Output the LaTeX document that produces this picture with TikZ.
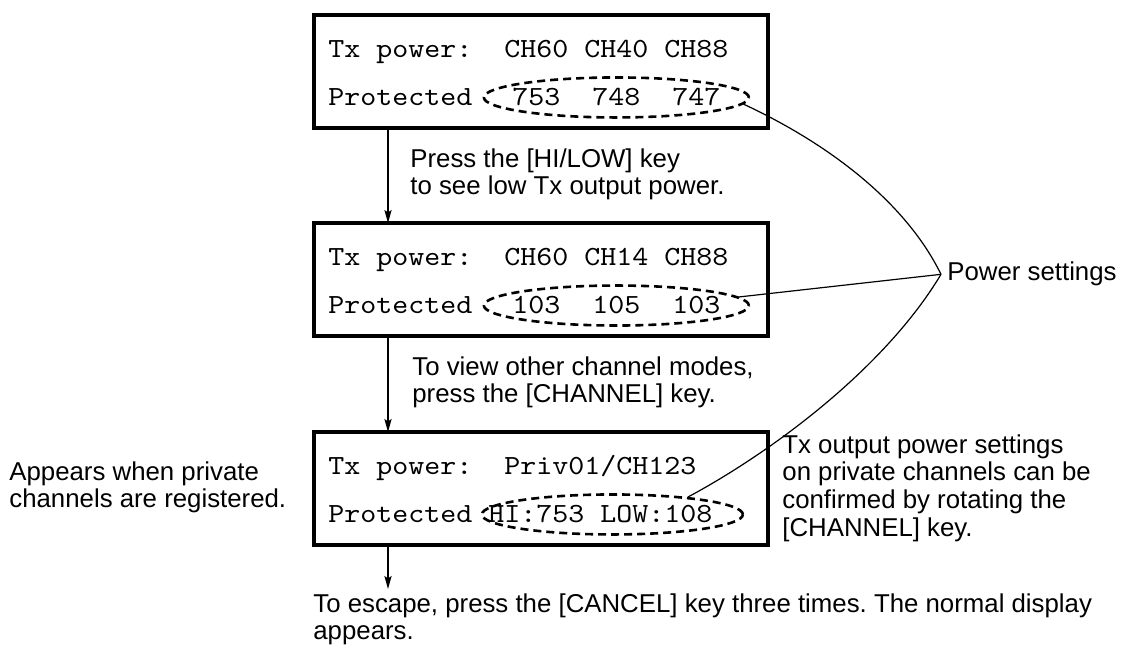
\documentclass[tikz,border=0pt]{standalone}
\usepackage{fontspec}
\setmainfont{Liberation Sans}
\newfontfamily\lcdfont{lmmono10-regular.otf}[FakeStretch=1.1]
\usepackage{tikz}
\usetikzlibrary{arrows.meta,positioning,shapes.geometric}
\frenchspacing

\begin{document}
\begin{tikzpicture}[
  x=0.5pt, y=-0.5pt,
  screen/.style={draw, line width=1.6pt, minimum width=227pt, minimum height=56.5pt, inner sep=0pt, outer sep=0pt},
  row/.style={font=\lcdfont\fontsize{13.85}{16}\selectfont, anchor=base west, inner sep=0pt},
  ring/.style={draw, ellipse, dash pattern=on 4pt off 2.5pt, line width=1.3pt, minimum width=132.5pt, minimum height=20pt, inner sep=0pt},
  note/.style={font=\fontsize{12.9}{13.9}\selectfont, align=left, anchor=north west, inner sep=0pt},
  flow/.style={-{Stealth[length=6.5pt,width=3.6pt,inset=1.2pt]}, line width=0.6pt},
  leader/.style={line width=0.6pt}
]
\useasboundingbox (0,0) rectangle (1125,651);

\node[screen] (scr1) at (541,71.5) {};
\node[screen, below=47.5pt of scr1] (scr2) {};
\node[screen, below=48pt of scr2] (scr3) {};

% first display
\node[row] (tx1) at ([shift={(7pt,-21.5pt)}]scr1.north west) {Tx power:};
\node[row] (ch1) at ([shift={(95pt,-21.5pt)}]scr1.north west) {CH60 CH40 CH88};
\node[row] (pr1) at ([shift={(7pt,-45.5pt)}]scr1.north west) {Protected};
\node[row, anchor=base] (val1) at (ch1.base |- pr1.base) {753\ \ 748\ \ 747};
\node[ring] (ring1) at (val1) {};

% second display
\node[row] (tx2) at ([shift={(7pt,-21.5pt)}]scr2.north west) {Tx power:};
\node[row] (ch2) at ([shift={(95pt,-21.5pt)}]scr2.north west) {CH60 CH14 CH88};
\node[row] (pr2) at ([shift={(7pt,-45.5pt)}]scr2.north west) {Protected};
\node[row, anchor=base] (val2) at (ch2.base |- pr2.base) {103\ \ 105\ \ 103};
\node[ring] (ring2) at (val2) {};

% third display
\node[row] (tx3) at ([shift={(7pt,-21.5pt)}]scr3.north west) {Tx power:};
\node[row] (ch3) at ([shift={(95pt,-21.5pt)}]scr3.north west) {Priv01/CH123};
\node[row] (pr3) at ([shift={(7pt,-45.5pt)}]scr3.north west) {Protected};
\node[row] (val3) at ([shift={(87pt,-45.5pt)}]scr3.north west) {HI:753 LOW:108};
\node[ring, minimum width=130.5pt] (ring3) at ([xshift=6pt]val3.center) {};

\draw[flow] ([xshift=37pt]scr1.south west) -- ([xshift=37pt]scr2.north west);
\draw[flow] ([xshift=37pt]scr2.south west) -- ([xshift=37pt]scr3.north west);
\coordinate (exit) at ([shift={(37pt,-22pt)}]scr3.south west);
\draw[flow] ([xshift=37pt]scr3.south west) -- (exit);

\node[note] (hint1) at (410,148) {Press the [HI/LOW] key\\to see low Tx output power.};
\node[note] (hint2) at (412,356) {To view other channel modes,\\press the [CHANNEL] key.};
\node[note] (escape) at (313,593) {To escape, press the [CANCEL] key three times. The normal display\\appears.};
\node[note] (private) at (9,461) {Appears when private\\channels are registered.};
\node[note] (confirm) at (782,434) {Tx output power settings\\on private channels can be\\confirmed by rotating the\\{}[CHANNEL] key.};
\node[note, anchor=base west, inner sep=3pt] (power) at (941,281) {Power settings};

\draw[leader] (ring1.-3.3) .. controls (827,143) and (905,201) .. (power.west);
\draw[leader] (ring2.4) -- (power.west);
\draw[leader] (power.west) .. controls (885,368) and (772,452) .. (ring3.13.4);
\end{tikzpicture}
\end{document}
